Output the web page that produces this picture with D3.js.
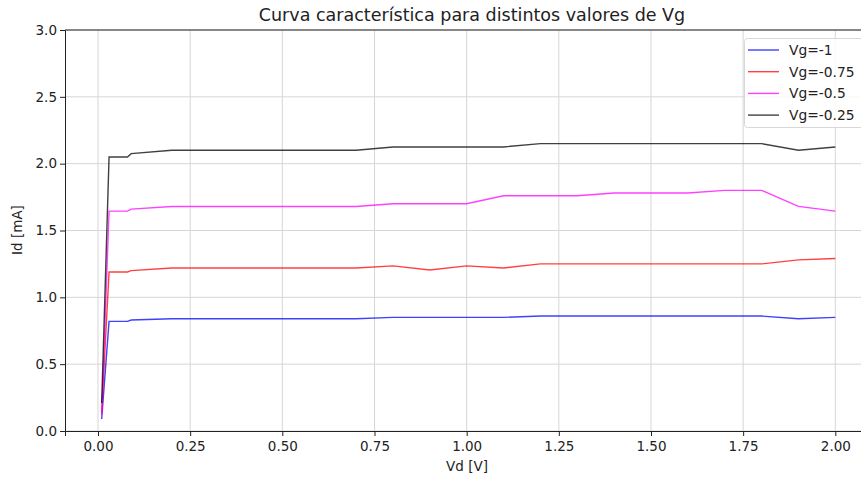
<!DOCTYPE html>
<html>
<head>
<meta charset="utf-8">
<script src="https://cdn.jsdelivr.net/npm/d3@7"></script>
<style>
  body { margin: 0; background: #fff; }
  text { font-family: "DejaVu Sans", sans-serif; }
</style>
</head>
<body>
<div id="fig"></div>
<script>
// data
var vd = [0.01, 0.03, 0.08, 0.09, 0.2, 0.3, 0.4, 0.5, 0.6, 0.7, 0.8, 0.9, 1.0, 1.1, 1.2, 1.3, 1.4, 1.5, 1.6, 1.7, 1.8, 1.9, 2.0];
var id_vg_1    = [0.09, 0.82, 0.82, 0.83, 0.84, 0.84, 0.84, 0.84, 0.84, 0.84, 0.85, 0.85, 0.85, 0.85, 0.86, 0.86, 0.86, 0.86, 0.86, 0.86, 0.86, 0.84, 0.85];
var id_vg_075  = [0.14, 1.19, 1.19, 1.20, 1.22, 1.22, 1.22, 1.22, 1.22, 1.22, 1.235, 1.205, 1.235, 1.22, 1.25, 1.25, 1.25, 1.25, 1.25, 1.25, 1.25, 1.28, 1.29];
var id_vg_05   = [0.12, 1.645, 1.645, 1.66, 1.68, 1.68, 1.68, 1.68, 1.68, 1.68, 1.70, 1.70, 1.70, 1.76, 1.76, 1.76, 1.78, 1.78, 1.78, 1.80, 1.80, 1.68, 1.645];
var id_vg_025  = [0.21, 2.05, 2.05, 2.075, 2.10, 2.10, 2.10, 2.10, 2.10, 2.10, 2.125, 2.125, 2.125, 2.125, 2.15, 2.15, 2.15, 2.15, 2.15, 2.15, 2.15, 2.10, 2.125];
var labels = ["Vg=-1", "Vg=-0.75", "Vg=-0.5", "Vg=-0.25"];
var colors = ["#0000ff", "#ff0000", "#ff00ff", "#000000"];
var xTicks = [0, 0.25, 0.5, 0.75, 1.0, 1.25, 1.5, 1.75, 2.0];
var yTicks = [0, 0.5, 1.0, 1.5, 2.0, 2.5, 3.0];

var series = [id_vg_1, id_vg_075, id_vg_05, id_vg_025];

var W = 861, H = 479;
var mLeft = 65, mTop = 30, mRight = 872, mBottom = 431;

var svg = d3.select("#fig")
  .append("svg")
  .attr("width", W)
  .attr("height", H);

var x = d3.scaleLinear().domain([-0.0895, 2.0995]).range([mLeft, mRight]);
var y = d3.scaleLinear().domain([0, 3]).range([mBottom, mTop]);

// grid
svg.append("g")
  .selectAll("line")
  .data(xTicks)
  .enter()
  .append("line")
    .attr("x1", function(d) { return x(d); })
    .attr("x2", function(d) { return x(d); })
    .attr("y1", mTop)
    .attr("y2", mBottom)
    .attr("stroke", "#d6d6d6")
    .attr("stroke-width", 1);

svg.append("g")
  .selectAll("line")
  .data(yTicks)
  .enter()
  .append("line")
    .attr("x1", mLeft)
    .attr("x2", mRight)
    .attr("y1", function(d) { return y(d); })
    .attr("y2", function(d) { return y(d); })
    .attr("stroke", "#d6d6d6")
    .attr("stroke-width", 1);

// curves
var line = d3.line()
  .x(function(d, i) { return x(vd[i]); })
  .y(function(d) { return y(d); });

svg.append("g")
  .selectAll("path")
  .data(series)
  .enter()
  .append("path")
    .attr("d", function(d) { return line(d); })
    .attr("fill", "none")
    .attr("stroke", function(d, i) { return colors[i]; })
    .attr("stroke-opacity", 0.75)
    .attr("stroke-width", 1.4);

// axes
var xAxis = svg.append("g")
  .attr("transform", "translate(0," + mBottom + ")")
  .call(d3.axisBottom(x).tickValues(xTicks).tickFormat(d3.format(".2f")).tickSizeOuter(0).tickSize(5));

var yAxis = svg.append("g")
  .attr("transform", "translate(" + mLeft + ",0)")
  .call(d3.axisLeft(y).tickValues(yTicks).tickFormat(d3.format(".1f")).tickSizeOuter(0).tickSize(5));

[xAxis, yAxis].forEach(function(a) {
  a.select(".domain").attr("stroke", "#222").attr("stroke-width", 1);
  a.selectAll(".tick line").attr("stroke", "#222");
  a.selectAll(".tick text")
    .attr("fill", "#222")
    .style("font-size", "13.5px")
    .style("font-family", "DejaVu Sans");
});
xAxis.selectAll(".tick text").attr("dy", "0.95em").attr("y", 7);
yAxis.selectAll(".tick text").attr("x", -8);

// top spine
svg.append("line")
  .attr("x1", mLeft).attr("x2", mRight)
  .attr("y1", mTop).attr("y2", mTop)
  .attr("stroke", "#222");

// titles
svg.append("text")
  .attr("x", 472)
  .attr("y", 21)
  .attr("text-anchor", "middle")
  .attr("fill", "#222")
  .style("font-size", "17.5px")
  .text("Curva característica para distintos valores de Vg");

svg.append("text")
  .attr("x", 467)
  .attr("y", 471)
  .attr("text-anchor", "middle")
  .attr("fill", "#222")
  .style("font-size", "13.5px")
  .text("Vd [V]");

svg.append("text")
  .attr("transform", "translate(22,230) rotate(-90)")
  .attr("text-anchor", "middle")
  .attr("fill", "#222")
  .style("font-size", "13.5px")
  .text("Id [mA]");

// legend
var lg = svg.append("g");
lg.append("rect")
  .attr("x", 744.5)
  .attr("y", 38.5)
  .attr("width", 125)
  .attr("height", 89)
  .attr("rx", 3)
  .attr("fill", "#fff")
  .attr("fill-opacity", 0.85)
  .attr("stroke", "#d8d8d8");

lg.selectAll("line")
  .data(labels)
  .enter()
  .append("line")
    .attr("x1", 748)
    .attr("x2", 779)
    .attr("y1", function(d, i) { return 50 + i * 21.7; })
    .attr("y2", function(d, i) { return 50 + i * 21.7; })
    .attr("stroke", function(d, i) { return colors[i]; })
    .attr("stroke-opacity", 0.75)
    .attr("stroke-width", 1.4);

lg.selectAll("text")
  .data(labels)
  .enter()
  .append("text")
    .attr("x", 789)
    .attr("y", function(d, i) { return 50 + i * 21.7; })
    .attr("dy", "0.35em")
    .attr("fill", "#222")
    .style("font-size", "13.8px")
    .text(function(d) { return d; });
</script>
</body>
</html>
